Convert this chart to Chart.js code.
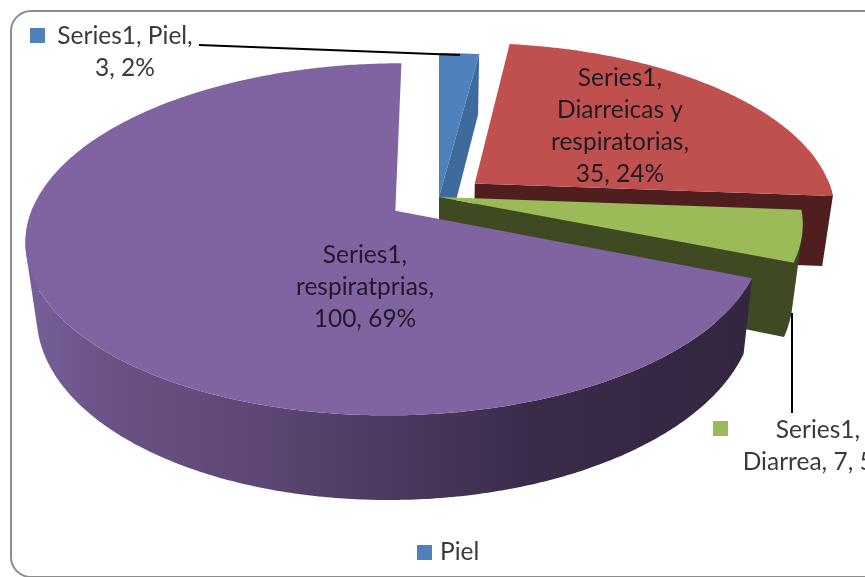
<!DOCTYPE html>
<html>
<head>
<meta charset="utf-8">
<style>
html,body{margin:0;padding:0;background:#fff;overflow:hidden}
#wrap{position:relative;width:865px;height:577px}
canvas{display:block}
</style>
<script src="https://cdn.jsdelivr.net/npm/chart.js@4"></script>
</head>
<body>
<div id="wrap"><canvas id="c" width="865" height="577"></canvas></div>
<script>
const seriesName = "Series1";
const categories = ["Piel", "Diarreicas y respiratorias", "Diarrea", "respiratprias"];
const values = [3, 35, 7, 100];
const topColors = ["#4f81bd", "#c0504d", "#9bbb59", "#8064a2"];
const wallColors = ["#3f6a9c", "#4f1f1f", "#3f4a22", null];
const explode = [0, 0.13, 0, 0.145];

// Projection of the pie disc: aspect, perspective, depth
const ASPECT = 2.15, PERSP = 0.16, DEPTH = 70, TAPER = 0.027;

function project(arc, X, Y, Z) {
  const s = 1 / (1 + PERSP * Y);
  const R = arc.outerRadius;
  return [
    arc.x + R * ASPECT * X * s * (1 - TAPER * Z),
    arc.y - R * Y * s + DEPTH * s * Z
  ];
}
function rimAngles(arc) {
  const n = Math.max(2, Math.ceil((arc.endAngle - arc.startAngle) / 0.01));
  const list = [];
  for (let i = 0; i <= n; i++) list.push(arc.startAngle + (arc.endAngle - arc.startAngle) * i / n);
  return list;
}
function tracePoly(ctx, pts) {
  let area = 0;
  pts.forEach((p, i) => {
    const q = pts[(i + 1) % pts.length];
    area += p[0] * q[1] - q[0] * p[1];
  });
  const ordered = area < 0 ? pts.slice().reverse() : pts;
  ordered.forEach((p, i) => i ? ctx.lineTo(p[0], p[1]) : ctx.moveTo(p[0], p[1]));
  ctx.closePath();
}
function fillPoly(ctx, pts, style) {
  ctx.beginPath();
  tracePoly(ctx, pts);
  ctx.fillStyle = style;
  ctx.fill();
}

class Pie3D extends Chart.PieController {
  draw() {
    const ctx = this.chart.ctx;
    const meta = this.getMeta();
    meta.data.forEach((arc, i) => {
      const mid = (arc.startAngle + arc.endAngle) / 2;
      const ox = Math.cos(mid) * explode[i], oy = -Math.sin(mid) * explode[i];
      const tip0 = project(arc, ox, oy, 0), tip1 = project(arc, ox, oy, 1);
      const angles = rimAngles(arc);
      const top = angles.map(a => project(arc, ox + Math.cos(a), oy - Math.sin(a), 0));
      const bot = angles.map(a => project(arc, ox + Math.cos(a), oy - Math.sin(a), 1));
      let wall = wallColors[i];
      if (!wall) {
        const g = ctx.createLinearGradient(25, 0, 750, 0);
        g.addColorStop(0, "#77609a");
        g.addColorStop(0.12, "#6a5285");
        g.addColorStop(0.3, "#5f4876");
        g.addColorStop(0.5, "#4c3a60");
        g.addColorStop(0.7, "#3a2b4a");
        g.addColorStop(1, "#332640");
        wall = g;
      }
      // side surfaces as one path so no seams show
      ctx.beginPath();
      // radial wall at the slice's end, only when it faces the viewer
      if (Math.cos(arc.endAngle) > 0.01) {
        tracePoly(ctx, [tip0, top[top.length - 1], bot[bot.length - 1], tip1]);
      }
      // outer rim: front-facing part only
      for (let k = 0; k < top.length - 1; k++) {
        if (Math.sin(angles[k]) < -0.02 && Math.sin(angles[k + 1]) < -0.02) continue;
        tracePoly(ctx, [top[k], top[k + 1], bot[k + 1], bot[k]]);
      }
      ctx.fillStyle = wall;
      ctx.fill("nonzero");
      fillPoly(ctx, [tip0].concat(top), topColors[i]);
    });
  }
}
Pie3D.id = "pie3d";
Pie3D.defaults = Chart.PieController.defaults;
Pie3D.overrides = Chart.PieController.overrides;
Chart.register(Pie3D);

const total = values.reduce((a, b) => a + b, 0);
const pct = i => Math.round(values[i] / total * 100) + "%";
const labelLines = [
  [seriesName + ", " + categories[0] + ",", values[0] + ", " + pct(0)],
  [seriesName + ",", "Diarreicas y", "respiratorias,", values[1] + ", " + pct(1)],
  [seriesName + ",", categories[2] + ", " + values[2] + ", " + pct(2)],
  [seriesName + ",", categories[3] + ",", values[3] + ", " + pct(3)]
];
const labelPlace = [[125, 36], [620, 78], [818, 430], [365, 255]];
const FONT = "24.5px Lato";
const LH = 32;

const chrome = {
  id: "chrome",
  beforeDraw(chart) {
    const ctx = chart.ctx;
    ctx.save();
    ctx.strokeStyle = "#8c8c8c";
    ctx.lineWidth = 2;
    ctx.beginPath();
    ctx.roundRect(11, 11, 900, 566, 20);
    ctx.stroke();
    ctx.restore();
  },
  afterDraw(chart) {
    const ctx = chart.ctx;
    ctx.save();
    ctx.strokeStyle = "#000";
    ctx.lineWidth = 2;
    ctx.beginPath();
    ctx.moveTo(199, 45); ctx.lineTo(460, 55);
    ctx.moveTo(792, 313); ctx.lineTo(792, 413);
    ctx.stroke();
    ctx.fillStyle = topColors[0];
    ctx.fillRect(30, 28, 15, 15);
    ctx.fillStyle = topColors[2];
    ctx.fillRect(713, 421, 15, 15);
    ctx.fillStyle = topColors[0];
    ctx.fillRect(417, 545, 15, 15);
    ctx.font = FONT;
    ctx.textAlign = "center";
    ctx.textBaseline = "middle";
    labelLines.forEach((lines, i) => {
      ctx.fillStyle = (i === 0 || i === 2) ? "#3a3a3a" : "#1f1a26";
      lines.forEach((t, k) => ctx.fillText(t, labelPlace[i][0], labelPlace[i][1] + k * LH));
    });
    ctx.fillStyle = "#3a3a3a";
    ctx.textAlign = "left";
    ctx.fillText(categories[0], 440, 552);
    ctx.restore();
  }
};

new Chart(document.getElementById("c"), {
  type: "pie3d",
  data: {
    labels: categories,
    datasets: [{ label: seriesName, data: values, backgroundColor: topColors, borderWidth: 0 }]
  },
  options: {
    responsive: false,
    animation: false,
    layout: { padding: { left: 272, right: 259, top: 30, bottom: 213 } },
    plugins: { legend: { display: false }, tooltip: { enabled: false } }
  },
  plugins: [chrome]
});
</script>
</body>
</html>
